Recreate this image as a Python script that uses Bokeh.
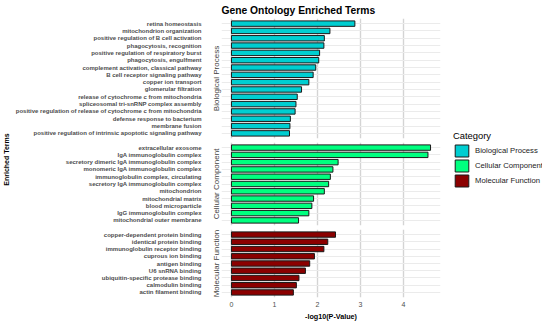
from bokeh.plotting import figure
from bokeh.models import (ColumnDataSource, FactorRange, Range1d, FixedTicker,
                          Title, Legend, LegendItem)
from bokeh.layouts import row, column
from bokeh.embed import file_html
from bokeh.resources import INLINE

# ---------------- data ----------------
categories = ["Biological Process", "Cellular Component", "Molecular Function"]
cat_colors = ["#00CED1", "#00FF7F", "#8B0000"]

bp_terms = [
    "retina homeostasis",
    "mitochondrion organization",
    "positive regulation of B cell activation",
    "phagocytosis, recognition",
    "positive regulation of respiratory burst",
    "phagocytosis, engulfment",
    "complement activation, classical pathway",
    "B cell receptor signaling pathway",
    "copper ion transport",
    "glomerular filtration",
    "release of cytochrome c from mitochondria",
    "spliceosomal tri-snRNP complex assembly",
    "positive regulation of release of cytochrome c from mitochondria",
    "defense response to bacterium",
    "membrane fusion",
    "positive regulation of intrinsic apoptotic signaling pathway",
]
bp_values = [2.87, 2.29, 2.16, 2.15, 2.05, 2.03, 1.96, 1.90, 1.80, 1.63,
             1.53, 1.50, 1.48, 1.37, 1.36, 1.35]

cc_terms = [
    "extracellular exosome",
    "IgA immunoglobulin complex",
    "secretory dimeric IgA immunoglobulin complex",
    "monomeric IgA immunoglobulin complex",
    "immunoglobulin complex, circulating",
    "secretory IgA immunoglobulin complex",
    "mitochondrion",
    "mitochondrial matrix",
    "blood microparticle",
    "IgG immunoglobulin complex",
    "mitochondrial outer membrane",
]
cc_values = [4.63, 4.57, 2.48, 2.36, 2.30, 2.26, 2.16, 1.91, 1.87, 1.80, 1.56]

mf_terms = [
    "copper-dependent protein binding",
    "identical protein binding",
    "immunoglobulin receptor binding",
    "cuprous ion binding",
    "antigen binding",
    "U6 snRNA binding",
    "ubiquitin-specific protease binding",
    "calmodulin binding",
    "actin filament binding",
]
mf_values = [2.42, 2.24, 2.15, 1.93, 1.82, 1.72, 1.57, 1.51, 1.44]

x_ticks = [0, 1, 2, 3, 4]
title_text = "Gene Ontology Enriched Terms"
x_title = "-log10(P-Value)"
y_title = "Enriched Terms"
legend_title = "Category"

# ---------------- styling / layout ----------------
FONT = "Liberation Sans"
all_vals = bp_values + cc_values + mf_values
xmax = max(all_vals)
x_lo, x_hi = -0.05 * xmax, 1.05 * xmax

LEFT_W = 12         # width of the "Enriched Terms" strip figure
ML = 209            # border left of panels (labels + strip)
FW = 219            # panel frame width
MR = 5
TOP = 18
GAP = 2
BOTTOM = 21
FH = [120, 83, 68]
TOTAL_H = TOP + FH[0] + GAP + GAP + FH[1] + GAP + GAP + FH[2] + BOTTOM
TOTAL_W = 542


def make_panel(terms, values, color, label, frame_h, top, bottom, show_x):
    p = figure(
        y_range=FactorRange(factors=list(reversed(terms)), range_padding=0.2,
                            range_padding_units="absolute"),
        x_range=Range1d(x_lo, x_hi),
        frame_width=FW, frame_height=frame_h,
        min_border_left=ML, min_border_right=MR,
        min_border_top=top, min_border_bottom=bottom,
        toolbar_location=None, output_backend="svg",
        x_axis_location="below" if show_x else None,
    )
    src = ColumnDataSource(dict(term=terms, value=values))
    p.hbar(y="term", left=0, right="value", height=0.74, source=src,
           fill_color=color, line_color="#1A1A1A", line_width=1)
    p.outline_line_color = None
    p.background_fill_color = "white"

    # grids
    p.xgrid.ticker = FixedTicker(ticks=x_ticks)
    p.xgrid.grid_line_color = "#D4D4D4"
    p.xgrid.grid_line_width = 1.4
    p.ygrid.grid_line_color = "#EBEBEB"
    p.ygrid.grid_line_width = 1.2

    # y axis (term labels)
    ya = p.yaxis[0]
    ya.axis_line_color = None
    ya.major_tick_line_color = None
    ya.minor_tick_line_color = None
    ya.major_tick_out = 0
    ya.major_tick_in = 0
    ya.major_label_standoff = 8
    ya.major_label_text_font = FONT
    ya.major_label_text_font_size = "6px"
    ya.major_label_text_font_style = "bold"
    ya.major_label_text_color = "#4D4D4D"

    # strip label, closest to the panel
    strip = Title(text=label, align="center", text_font=FONT,
                  text_font_size="8px", text_font_style="normal",
                  text_color="#444444", standoff=1)
    p.left = [strip] + list(p.left)

    if show_x:
        xa = p.xaxis[0]
        xa.ticker = FixedTicker(ticks=x_ticks)
        xa.axis_line_color = None
        xa.major_tick_line_color = None
        xa.minor_tick_line_color = None
        xa.major_tick_out = 0
        xa.major_tick_in = 0
        xa.major_label_standoff = 4
        xa.major_label_text_font = FONT
        xa.major_label_text_font_size = "7px"
        xa.major_label_text_color = "#4D4D4D"
        xa.axis_label = x_title
        xa.axis_label_text_font = FONT
        xa.axis_label_text_font_size = "7.2px"
        xa.axis_label_text_font_style = "bold"
        xa.axis_label_text_color = "#000000"
        xa.axis_label_standoff = 2
    return p


p_bp = make_panel(bp_terms, bp_values, cat_colors[0], categories[0], FH[0], TOP, GAP, False)
p_cc = make_panel(cc_terms, cc_values, cat_colors[1], categories[1], FH[1], GAP, GAP, False)
p_mf = make_panel(mf_terms, mf_values, cat_colors[2], categories[2], FH[2], GAP, BOTTOM, True)

p_bp.title.text = title_text
p_bp.title.text_font = FONT
p_bp.title.text_font_size = "10.3px"
p_bp.title.text_font_style = "bold"
p_bp.title.text_color = "#000000"
p_bp.title.align = "left"
p_bp.title.standoff = 5

# left strip with the y-axis title
lf = figure(width=LEFT_W, height=TOTAL_H, toolbar_location=None,
            output_backend="svg", x_axis_location=None, y_axis_location=None,
            min_border=0, title=y_title, title_location="left")
lf.outline_line_color = None
lf.xgrid.visible = False
lf.ygrid.visible = False
lf.title.align = "center"
lf.title.text_font = FONT
lf.title.text_font_size = "7px"
lf.title.text_font_style = "bold"
lf.title.text_color = "#000000"
lf.title.standoff = 0

# legend figure (legend proxies sit outside the visible range)
LG_W = TOTAL_W - LEFT_W - (ML + FW + MR)
lg = figure(width=LG_W, height=TOTAL_H, toolbar_location=None,
            output_backend="svg", x_axis_location=None, y_axis_location=None,
            min_border=0, x_range=Range1d(0, 1), y_range=Range1d(0, 1))
lg.outline_line_color = None
lg.xgrid.visible = False
lg.ygrid.visible = False
items = []
for cat, col in zip(categories, cat_colors):
    r = lg.hbar(y=[-10], right=[0.1], left=[0], height=0.7, fill_color=col,
                line_color="#1A1A1A", line_width=1)
    items.append(LegendItem(label=cat, renderers=[r]))
legend = Legend(items=items, location=(8, 130), title=legend_title,
                title_text_font=FONT, title_text_font_size="9.4px",
                title_text_font_style="normal",
                title_text_color="#000000", title_standoff=2,
                label_text_font=FONT, label_text_font_size="7.7px",
                label_text_color="#1A1A1A", glyph_width=17, glyph_height=15,
                label_height=15, spacing=0, padding=0, margin=0,
                label_standoff=5, border_line_color=None,
                background_fill_alpha=0)
lg.add_layout(legend)

layout = row(lf, column(p_bp, p_cc, p_mf), lg)

open("out.html", "w").write(file_html(layout, INLINE))
